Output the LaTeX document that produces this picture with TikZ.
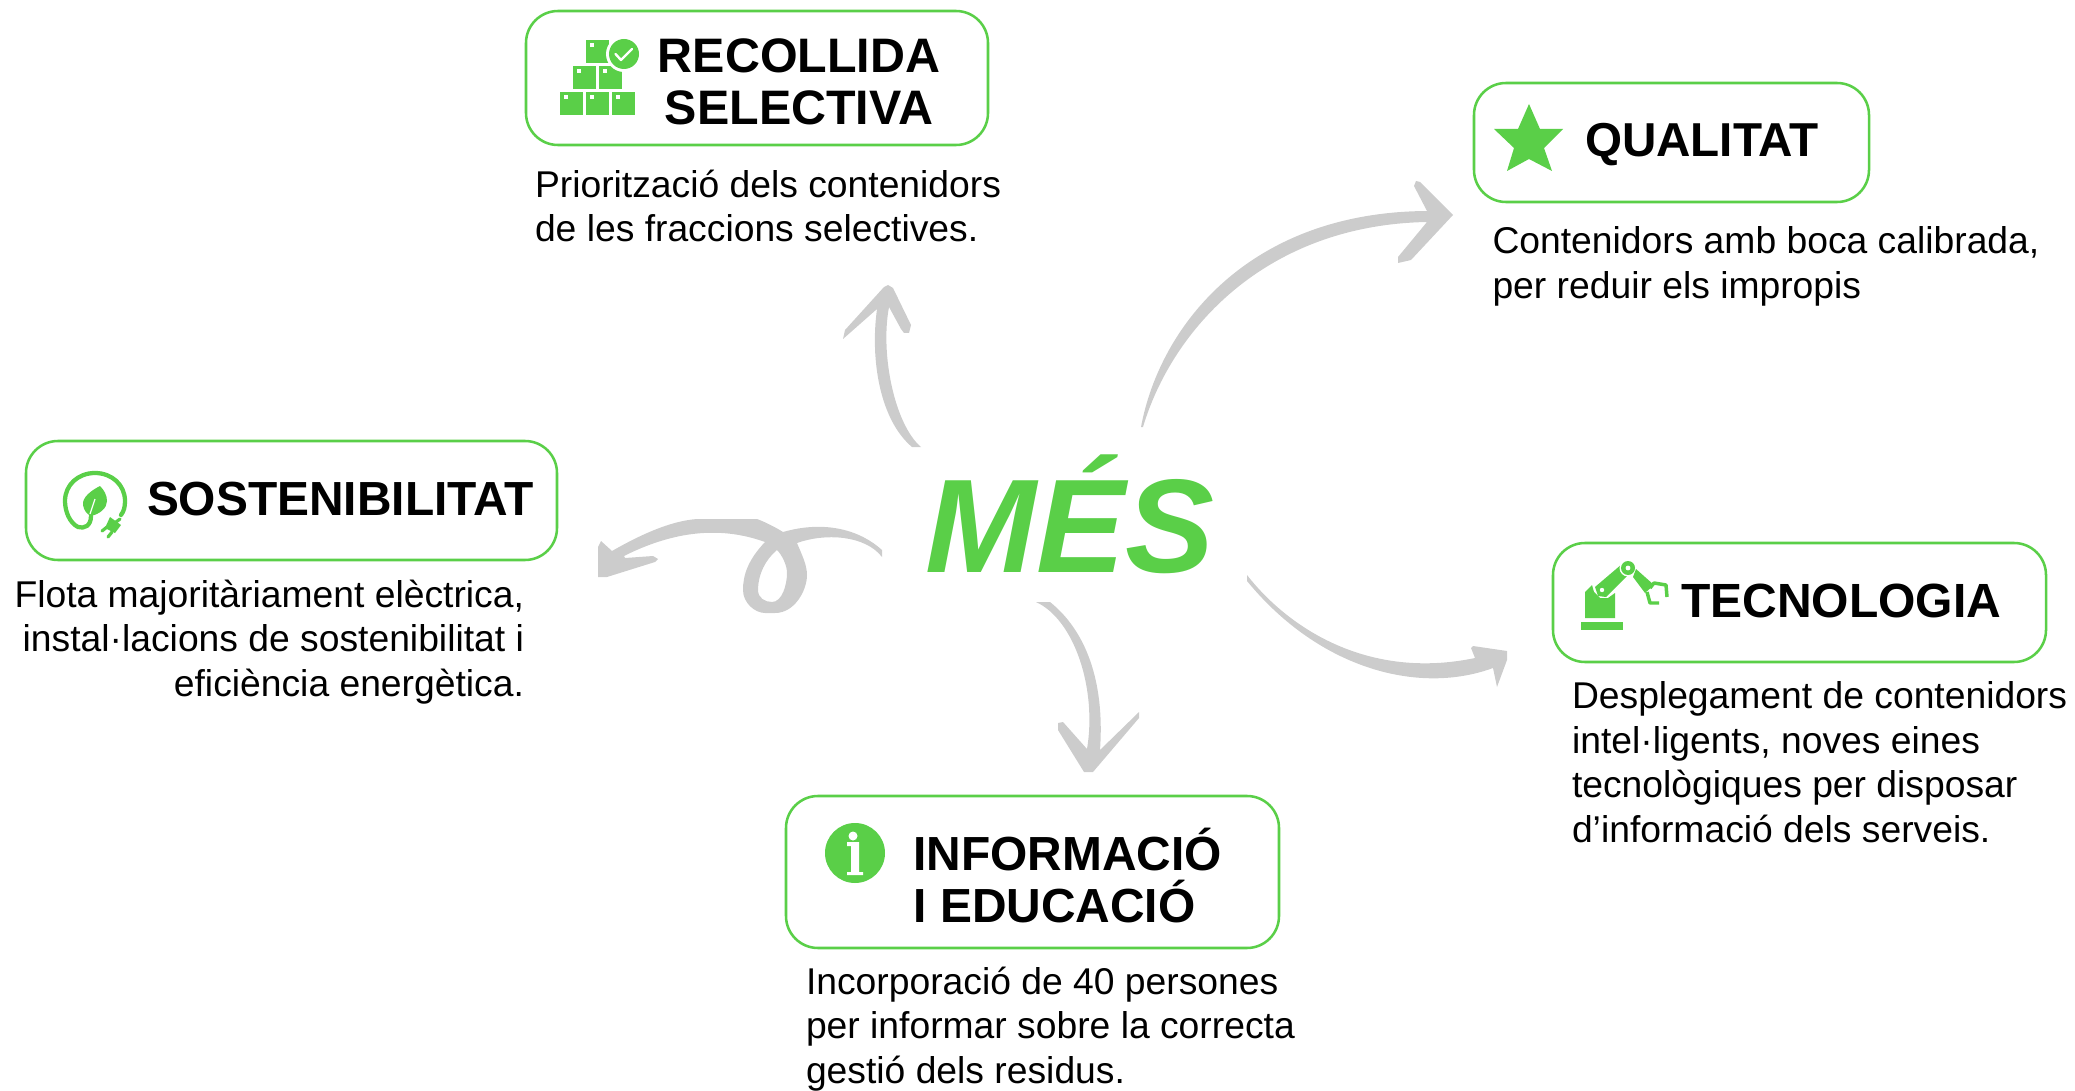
\documentclass[tikz,border=0pt]{standalone}
\usepackage{fontspec}
\setmainfont{Liberation Sans}
\definecolor{gr}{HTML}{5ACF48}
\definecolor{ar}{HTML}{CCCCCC}
\tikzset{
  gbox/.style={draw=gr,line width=1.9pt,rounded corners=24pt,inner sep=0pt,outer sep=0pt,fill=white},
  ttl/.style={anchor=base west,inner sep=0pt,outer sep=0pt,font=\bfseries\fontsize{#1}{39}\selectfont},
  ttl/.default=36,
  body/.style={inner sep=0pt,outer sep=0pt,font=\fontsize{27.95}{33.4}\selectfont},
  gfill/.style={fill=gr,draw=none},
  wfill/.style={fill=white,draw=none},
  arrowshape/.style={fill=ar,draw=none,line join=round},
}
\begin{document}
\begin{tikzpicture}[x=0.75pt,y=-0.75pt]
\useasboundingbox (0,0) rectangle (2075,1091);

% hand-drawn arrows
\fill[arrowshape] (912,447) .. controls (880,420) and (870,360) .. (877,309)
  -- (843,339) -- (845,330) -- (884,287) -- (888,285) -- (893,288) -- (911,325) -- (909,333) -- (904,333) -- (901,329) -- (889,307)
  .. controls (880,355) and (895,425) .. (921,447) -- cycle;

\fill[arrowshape] (1141,427) .. controls (1160,325) and (1250,212) .. (1427,211)
  -- (1414,186) -- (1416,181) -- (1420,182) -- (1453,215) -- (1411,260) -- (1398,263) -- (1398,257) -- (1427,222)
  .. controls (1265,225) and (1172,330) .. (1143,427) -- cycle;

\fill[arrowshape] (1247,575) .. controls (1290,630) and (1370,680) .. (1475,658)
  -- (1471,648) -- (1473,646) -- (1507,651) -- (1507,660) -- (1497,687) -- (1493,668)
  .. controls (1420,695) and (1320,670) .. (1247,581) -- cycle;

\fill[arrowshape] (1036,602) .. controls (1075,620) and (1097,690) .. (1087,749)
  -- (1063,722) -- (1058,723) -- (1058,730) -- (1084,772) -- (1093,772) -- (1139,718) -- (1139,712) -- (1100,750)
  .. controls (1105,680) and (1085,630) .. (1050,602) -- cycle;

\fill[arrowshape,even odd rule]
  (882,550) .. controls (860,530) and (825,520) .. (783,532)
  .. controls (775,527) and (765,522) .. (757,519) -- (697,519)
  .. controls (670,521) and (640,535) .. (612,551)
  -- (601,541) -- (598,547) -- (598,577) -- (607,577) -- (655,562) -- (658,559) -- (653,556) -- (625,558) -- (624,556)
  .. controls (660,538) and (710,522) .. (765,542)
  .. controls (748,560) and (743,575) .. (743,590)
  .. controls (743,603) and (755,613) .. (765,613) -- (775,613)
  .. controls (795,613) and (807,590) .. (807,575)
  .. controls (807,565) and (802,555) .. (797,543)
  .. controls (825,533) and (865,535) .. (882,557) -- cycle
  (777,550) .. controls (765,560) and (758,575) .. (758,590)
  .. controls (758,598) and (765,602) .. (772,602)
  .. controls (782,602) and (787,585) .. (787,573)
  .. controls (787,565) and (782,555) .. (777,550) -- cycle;

% centre
\node[anchor=base west,inner sep=0pt,text=gr,font=\bfseries\itshape\fontsize{100}{100}\selectfont] (mes) at (925,572) {MÉS};

% boxes
\node[gbox,minimum width=346.5pt,minimum height=100.5pt] (bRec) at (757,78) {};
\node[gbox,minimum width=296.25pt,minimum height=89.25pt] (bQua) at (1671.5,142.5) {};
\node[gbox,minimum width=398.25pt,minimum height=89.25pt] (bSos) at (291.5,500.5) {};
\node[gbox,minimum width=369.75pt,minimum height=89.25pt] (bTec) at (1799.5,602.5) {};
\node[gbox,minimum width=369.75pt,minimum height=114pt] (bInf) at (1032.5,872) {};

% titles
\node[inner sep=0pt,outer sep=0pt,anchor=base,align=center,font=\bfseries\fontsize{36.3}{39}\selectfont] (tRec) at (799,125) {RECOLLIDA\\SELECTIVA};
\node[ttl=35.7] (tQua) at (1585,157) {QUALITAT};
\node[ttl=35.9] (tSos) at (147,515) {SOSTENIBILITAT};
\node[ttl=36] (tTec) at (1681,617) {TECNOLOGIA};
\node[inner sep=0pt,outer sep=0pt,anchor=base west,align=left,font=\bfseries\fontsize{35.9}{39}\selectfont] (tInf) at (913.5,922) {INFORMACIÓ\\I EDUCACIÓ};

% descriptions
\node[body,anchor=base west,align=left] (dRec) at (535,242) {Priorització dels contenidors\\de les fraccions selectives.};
\node[body,anchor=base west,align=left] (dQua) at (1492.5,298.5) {Contenidors amb boca calibrada,\\per reduir els impropis};
\node[body,anchor=base east,align=right] (dSos) at (524,696.5) {Flota majoritàriament elèctrica,\\instal·lacions de sostenibilitat i\\eficiència energètica.};
\node[body,anchor=base west,align=left] (dTec) at (1572,842.5) {Desplegament de contenidors\\intel·ligents, noves eines\\tecnològiques per disposar\\d’informació dels serveis.};
\node[body,anchor=base west,align=left] (dInf) at (806,1083.5) {Incorporació de 40 persones\\per informar sobre la correcta\\gestió dels residus.};

% icon: boxes
\foreach \a/\b in {560/92,586/92,612/92,573/66,599/66,586/40}{
  \fill[gfill] (\a,\b) rectangle ++(23,23);
  \fill[wfill] (\a+3.5,\b+3.5) rectangle ++(4,4);
}
\fill[wfill] (624,54) circle[radius=18];
\fill[gfill] (624,54) circle[radius=15];
\draw[white,line width=1.8pt,line cap=round,line join=round] (615.5,54) -- (621,60) -- (632,49);

% icon: star
\fill[gfill] (1529,104) -- (1540,129) -- (1563,129) -- (1544,148) -- (1552,171) -- (1529,159) -- (1507,171) -- (1514,148) -- (1494,129) -- (1518,129) -- cycle;

% icon: info
\fill[gfill] (855,853) circle[radius=30];
\fill[wfill] (853,836) circle[radius=4.5];
\fill[wfill] (847,842) -- (859,842) -- (859,872) -- (863,872) -- (863,875) -- (847,875) -- (847,872) -- (851,872) -- (851,846) -- (847,846) -- cycle;

% icon: leaf and plug
\draw[gr,line width=3.2pt,line cap=round] (91,516) .. controls (91,526) and (84,529) .. (78,527) .. controls (70,523) and (65,512) .. (65,501) .. controls (65,485) and (78,473) .. (95,473) .. controls (112,473) and (125,485) .. (125,501) .. controls (125,507) and (124,511) .. (121,515);
\fill[gfill] (100,486) .. controls (90,491) and (82,498) .. (83,505) .. controls (84,511) and (87,514) .. (91,516) .. controls (100,514) and (107,508) .. (107,501) .. controls (107,495) and (104,490) .. (100,486) -- cycle;
\draw[white,line width=0.9pt] (90,514) -- (95,499);
\fill[gfill] (110,517) -- (121,525) -- (115,533) -- (105,528) -- cycle;
\draw[gr,line width=2.4pt,line cap=round] (107,527) -- (102,531) (112,532) -- (108,537) (116,522) -- (120,519);

% icon: robot
\fill[gfill] (1581,622) rectangle (1623,630);
\fill[gfill] (1585,618) -- (1585,592) -- (1592,585) -- (1594,592) -- (1600,598) -- (1608,598) -- (1615,593) -- (1615,618) -- cycle;
\fill[gfill] (1595,587) -- (1622,564) -- (1628,575) -- (1606,597) -- (1598,596) -- cycle;
\fill[wfill] (1602,590) circle[radius=2.2];
\fill[wfill] (1628,568) circle[radius=8.5];
\fill[gfill] (1628,568) circle[radius=7];
\fill[wfill] (1628,568) circle[radius=2.4];
\fill[gfill] (1636,569) -- (1654,585) -- (1645,593) -- (1633,577) -- cycle;
\draw[gr,line width=2.6pt,line join=round] (1650,588) -- (1654,583) -- (1666,585) -- (1667,597);
\draw[gr,line width=2.6pt,line join=round] (1647,592) -- (1650,603) -- (1659,603);
\end{tikzpicture}
\end{document}
